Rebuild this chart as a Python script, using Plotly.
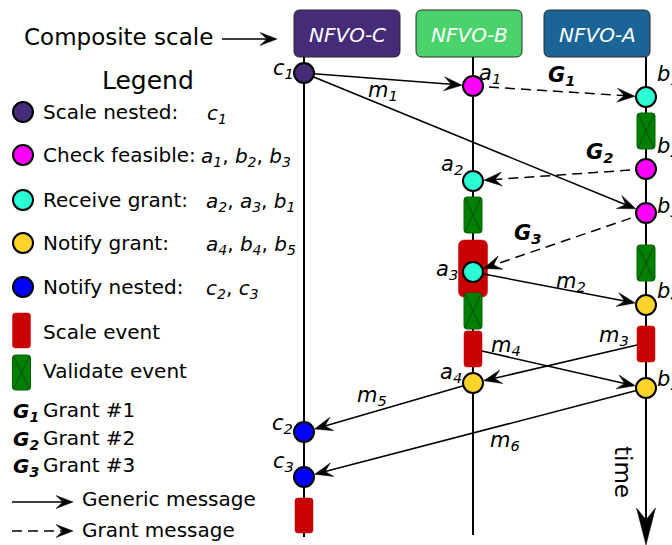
import math
import plotly.graph_objects as go

# ---------------- data ----------------
lanes = ["NFVO-C", "NFVO-B", "NFVO-A"]
lane_fill = ["#452b78", "#4bd36b", "#1a6496"]

# events on the lifelines (lane index, time)
event_names = ["c1", "a1", "b1", "b2", "a2", "b3", "a3", "b4", "a4", "b5", "c2", "c3"]
event_lane = [0, 1, 2, 2, 1, 2, 1, 2, 1, 2, 0, 0]
event_time = [73, 86, 97, 169, 181, 213, 272, 305, 383, 388, 432, 477]
event_kind = ["scale_nested", "check", "receive", "check", "receive", "check",
              "receive", "notify", "notify", "notify", "nested", "nested"]

# activity blocks (lane, start, end, kind)
block_lane = [2, 1, 1, 2, 1, 1, 2, 0]
block_start = [113, 197, 240, 245, 293, 331, 326, 498]
block_end = [149, 233, 297, 281, 329, 367, 362, 533]
block_kind = ["validate", "validate", "scale_big", "validate", "validate", "scale", "scale", "scale"]

# messages
msg_from_lane = [0, 0, 1, 2, 2, 1, 2, 1, 1, 2]
msg_from_time = [73, 73, 86, 169, 213, 272, 345, 351, 383, 388]
msg_from_block = [False, False, False, False, False, False, True, True, False, False]
msg_to_lane = [1, 2, 2, 1, 1, 2, 1, 2, 0, 0]
msg_to_time = [86, 213, 97, 181, 272, 305, 383, 388, 432, 477]
msg_kind = ["generic", "generic", "grant", "grant", "grant", "generic", "generic", "generic", "generic", "generic"]
msg_label = ["m1", "", "G1", "G2", "G3", "m2", "m3", "m4", "m5", "m6"]

# legend content
legend_kinds = ["scale_nested", "check", "receive", "notify", "nested"]
legend_names = ["Scale nested:", "Check feasible:", "Receive grant:", "Notify grant:", "Notify nested:"]
legend_members = [["c1"], ["a1", "b2", "b3"], ["a2", "a3", "b1"], ["a4", "b4", "b5"], ["c2", "c3"]]
grant_names = ["G1", "G2", "G3"]
grant_desc = ["Grant #1", "Grant #2", "Grant #3"]

# ---------------- layout / style ----------------
W, H = 672, 545
FONT = "DejaVu Sans"
lane_x = [304, 473, 646]
box_x = [(294, 400), (416, 522), (544, 650)]
box_y = (10, 57)
lifeline_end = [537, 535, 545]
kind_color = {"scale_nested": "#452b78", "check": "#ff00ff", "receive": "#2affd5",
              "notify": "#ffd42a", "nested": "#0000ff"}
RED = "#c80000"
GREEN = "#008000"
R = 11  # circle radius incl. border

event_label_xy = [(283, 69, "center"), (490, 74, "center"), (655, 75, "left"),
                  (655, 147, "left"), (452, 165, "center"), (655, 207, "left"),
                  (447, 270, "center"), (655, 292, "left"), (451, 373, "center"),
                  (655, 380, "left"), (282, 424, "center"), (283, 462, "center")]
msg_label_xy = [(383, 91), None, (561, 76), (599, 153), (527, 234), (571, 282),
                (614, 336), (506, 346), (372, 396), (505, 441)]
legend_y = [112, 155, 200, 243, 287]
legend_member_x = [205, 199, 204, 204, 204]


def sub(name):
    return f"<i>{name[0]}<sub>{name[1:]}</sub></i>"


def rrect(x0, y0, x1, y1, r):
    return (f"M{x0+r},{y0} L{x1-r},{y0} Q{x1},{y0} {x1},{y0+r} L{x1},{y1-r} "
            f"Q{x1},{y1} {x1-r},{y1} L{x0+r},{y1} Q{x0},{y1} {x0},{y1-r} "
            f"L{x0},{y0+r} Q{x0},{y0} {x0+r},{y0} Z")


def head(tx, ty, ux, uy, L=17, Wd=6.5, notch=0.6):
    nx, ny = -uy, ux
    xs = [tx, tx - L*ux + Wd*nx, tx - notch*L*ux, tx - L*ux - Wd*nx, tx, None]
    ys = [ty, ty - L*uy + Wd*ny, ty - notch*L*uy, ty - L*uy - Wd*ny, ty, None]
    return xs, ys


fig = go.Figure()
shapes = []
annotations = []

# header boxes
for i, name in enumerate(lanes):
    x0, x1 = box_x[i]
    shapes.append(dict(type="path", path=rrect(x0, box_y[0], x1, box_y[1], 6),
                       fillcolor=lane_fill[i], line=dict(color="#2b2b2b", width=1), layer="below"))
    annotations.append(dict(x=(x0 + x1) / 2, y=(box_y[0] + box_y[1]) / 2 + 1, text=f"<i>{name}</i>",
                            showarrow=False, font=dict(family=FONT, size=20, color="white"),
                            xanchor="center", yanchor="middle"))

# lifelines
for i in range(len(lanes)):
    yend = lifeline_end[i] if i != 2 else lifeline_end[i] - 25
    shapes.append(dict(type="line", x0=lane_x[i], x1=lane_x[i], y0=box_y[1], y1=yend,
                       line=dict(color="black", width=2), layer="below"))


def block_shape(x, y0, y1, kind):
    hw = 14.5 if kind == "scale_big" else 9
    r = 6 if kind == "scale_big" else 3
    out = []
    if kind.startswith("scale"):
        out.append(dict(type="path", path=rrect(x - hw, y0, x + hw, y1, r), fillcolor=RED,
                        line=dict(color=RED, width=0.5), layer="below"))
    else:
        out.append(dict(type="path", path=rrect(x - hw, y0, x + hw, y1, 3), fillcolor=GREEN,
                        line=dict(color="#006400", width=1), layer="below"))
        out.append(dict(type="path", path=f"M{x-hw+1},{y0+1} L{x+hw-1},{y1-1} M{x+hw-1},{y0+1} L{x-hw+1},{y1-1}",
                        line=dict(color="#1b3b1b", width=0.8), layer="below"))
    return out


for i in range(len(block_lane)):
    shapes += block_shape(lane_x[block_lane[i]], block_start[i], block_end[i], block_kind[i])

# legend blocks
shapes += block_shape(21.5, 313, 348, "scale")
shapes += block_shape(21.5, 355, 390, "validate")

# messages
solid_x, solid_y, dash_x, dash_y, hx, hy = [], [], [], [], [], []
for i in range(len(msg_kind)):
    xa, ya = lane_x[msg_from_lane[i]], msg_from_time[i]
    xb, yb = lane_x[msg_to_lane[i]], msg_to_time[i]
    dx, dy = xb - xa, yb - ya
    d = math.hypot(dx, dy)
    ux, uy = dx / d, dy / d
    if msg_from_block[i]:
        xa += 9 * (1 if dx > 0 else -1)
    tx, ty = xb - R * ux, yb - R * uy
    ex, ey = tx - 0.6 * 18 * ux, ty - 0.6 * 18 * uy
    if msg_kind[i] == "grant":
        dash_x += [xa, ex, None]; dash_y += [ya, ey, None]
    else:
        solid_x += [xa, ex, None]; solid_y += [ya, ey, None]
    a, b = head(tx, ty, ux, uy, L=18, Wd=7)
    hx += a; hy += b
    if msg_label[i]:
        lx, ly = msg_label_xy[i]
        if msg_kind[i] == "grant":
            txt = f"<b><i>{msg_label[i][0]}<sub>{msg_label[i][1:]}</sub></i></b>"
        else:
            txt = sub(msg_label[i])
        annotations.append(dict(x=lx, y=ly, text=txt, showarrow=False,
                                font=dict(family=FONT, size=21, color="black"),
                                xanchor="center", yanchor="middle"))

# legend message samples
solid_x += [12, 73 - 10, None]; solid_y += [502, 502, None]
a, b = head(73, 502, 1, 0); hx += a; hy += b
dash_x += [12, 63, None]; dash_y += [531, 531, None]
a, b = head(73, 531, 1, 0); hx += a; hy += b
# composite scale arrow
solid_x += [222, 277 - 10, None]; solid_y += [39, 39, None]
a, b = head(277, 39, 1, 0); hx += a; hy += b
# time arrow
solid_x += [lane_x[2], lane_x[2], None]; solid_y += [515, 525, None]
a, b = head(lane_x[2], 545, 0, 1, L=37, Wd=9.5, notch=0.68); hx += a; hy += b

fig.add_trace(go.Scatter(x=solid_x, y=solid_y, mode="lines", line=dict(color="black", width=1.5),
                         hoverinfo="skip"))
fig.add_trace(go.Scatter(x=dash_x, y=dash_y, mode="lines",
                         line=dict(color="black", width=1.5, dash="10px,6px"), hoverinfo="skip"))
fig.add_trace(go.Scatter(x=hx, y=hy, mode="lines", fill="toself", fillcolor="black",
                         line=dict(color="black", width=0.5), hoverinfo="skip"))

# event circles
fig.add_trace(go.Scatter(
    x=[lane_x[l] for l in event_lane], y=event_time, mode="markers",
    marker=dict(size=20, color=[kind_color[k] for k in event_kind], line=dict(color="black", width=2)),
    hoverinfo="skip"))
for i, n in enumerate(event_names):
    lx, ly, anc = event_label_xy[i]
    annotations.append(dict(x=lx, y=ly, text=sub(n), showarrow=False,
                            font=dict(family=FONT, size=21, color="black"),
                            xanchor=anc, yanchor="middle"))

# legend
annotations.append(dict(x=148, y=80, text="Legend", showarrow=False,
                        font=dict(family=FONT, size=25, color="black"), xanchor="center", yanchor="middle"))
annotations.append(dict(x=22, y=37, text="Composite scale", showarrow=False,
                        font=dict(family=FONT, size=23, color="black"), xanchor="left", yanchor="middle"))
fig.add_trace(go.Scatter(
    x=[23] * len(legend_kinds), y=legend_y, mode="markers",
    marker=dict(size=20, color=[kind_color[k] for k in legend_kinds], line=dict(color="black", width=2)),
    hoverinfo="skip"))
for i, nm in enumerate(legend_names):
    annotations.append(dict(x=41, y=legend_y[i], text=nm, showarrow=False,
                            font=dict(family=FONT, size=20, color="black"), xanchor="left", yanchor="middle"))
    annotations.append(dict(x=legend_member_x[i], y=legend_y[i] + 2,
                            text=", ".join(sub(m) for m in legend_members[i]), showarrow=False,
                            font=dict(family=FONT, size=20, color="black"), xanchor="left", yanchor="middle"))
annotations.append(dict(x=41, y=332, text="Scale event", showarrow=False,
                        font=dict(family=FONT, size=20, color="black"), xanchor="left", yanchor="middle"))
annotations.append(dict(x=41, y=371, text="Validate event", showarrow=False,
                        font=dict(family=FONT, size=20, color="black"), xanchor="left", yanchor="middle"))
for i, g in enumerate(grant_names):
    yy = 410 + i * 27.5
    annotations.append(dict(x=11, y=yy + 2, text=f"<b><i>{g[0]}<sub>{g[1:]}</sub></i></b>", showarrow=False,
                            font=dict(family=FONT, size=20, color="black"), xanchor="left", yanchor="middle"))
    annotations.append(dict(x=41, y=yy, text=grant_desc[i], showarrow=False,
                            font=dict(family=FONT, size=20, color="black"), xanchor="left", yanchor="middle"))
annotations.append(dict(x=80, y=499, text="Generic message", showarrow=False,
                        font=dict(family=FONT, size=20, color="black"), xanchor="left", yanchor="middle"))
annotations.append(dict(x=80, y=530, text="Grant message", showarrow=False,
                        font=dict(family=FONT, size=20, color="black"), xanchor="left", yanchor="middle"))
annotations.append(dict(x=623, y=472, text="time", textangle=90, showarrow=False,
                        font=dict(family=FONT, size=23, color="black"), xanchor="center", yanchor="middle"))

fig.update_layout(
    width=W, height=H, margin=dict(l=0, r=0, t=0, b=0),
    paper_bgcolor="white", plot_bgcolor="white", showlegend=False,
    xaxis=dict(range=[0, W], visible=False, fixedrange=True),
    yaxis=dict(range=[H, 0], visible=False, fixedrange=True),
    shapes=shapes, annotations=annotations,
)
fig.write_html("out.html", config={"displayModeBar": False},
               post_script="document.body.style.margin='0';document.body.style.overflow='hidden';")
